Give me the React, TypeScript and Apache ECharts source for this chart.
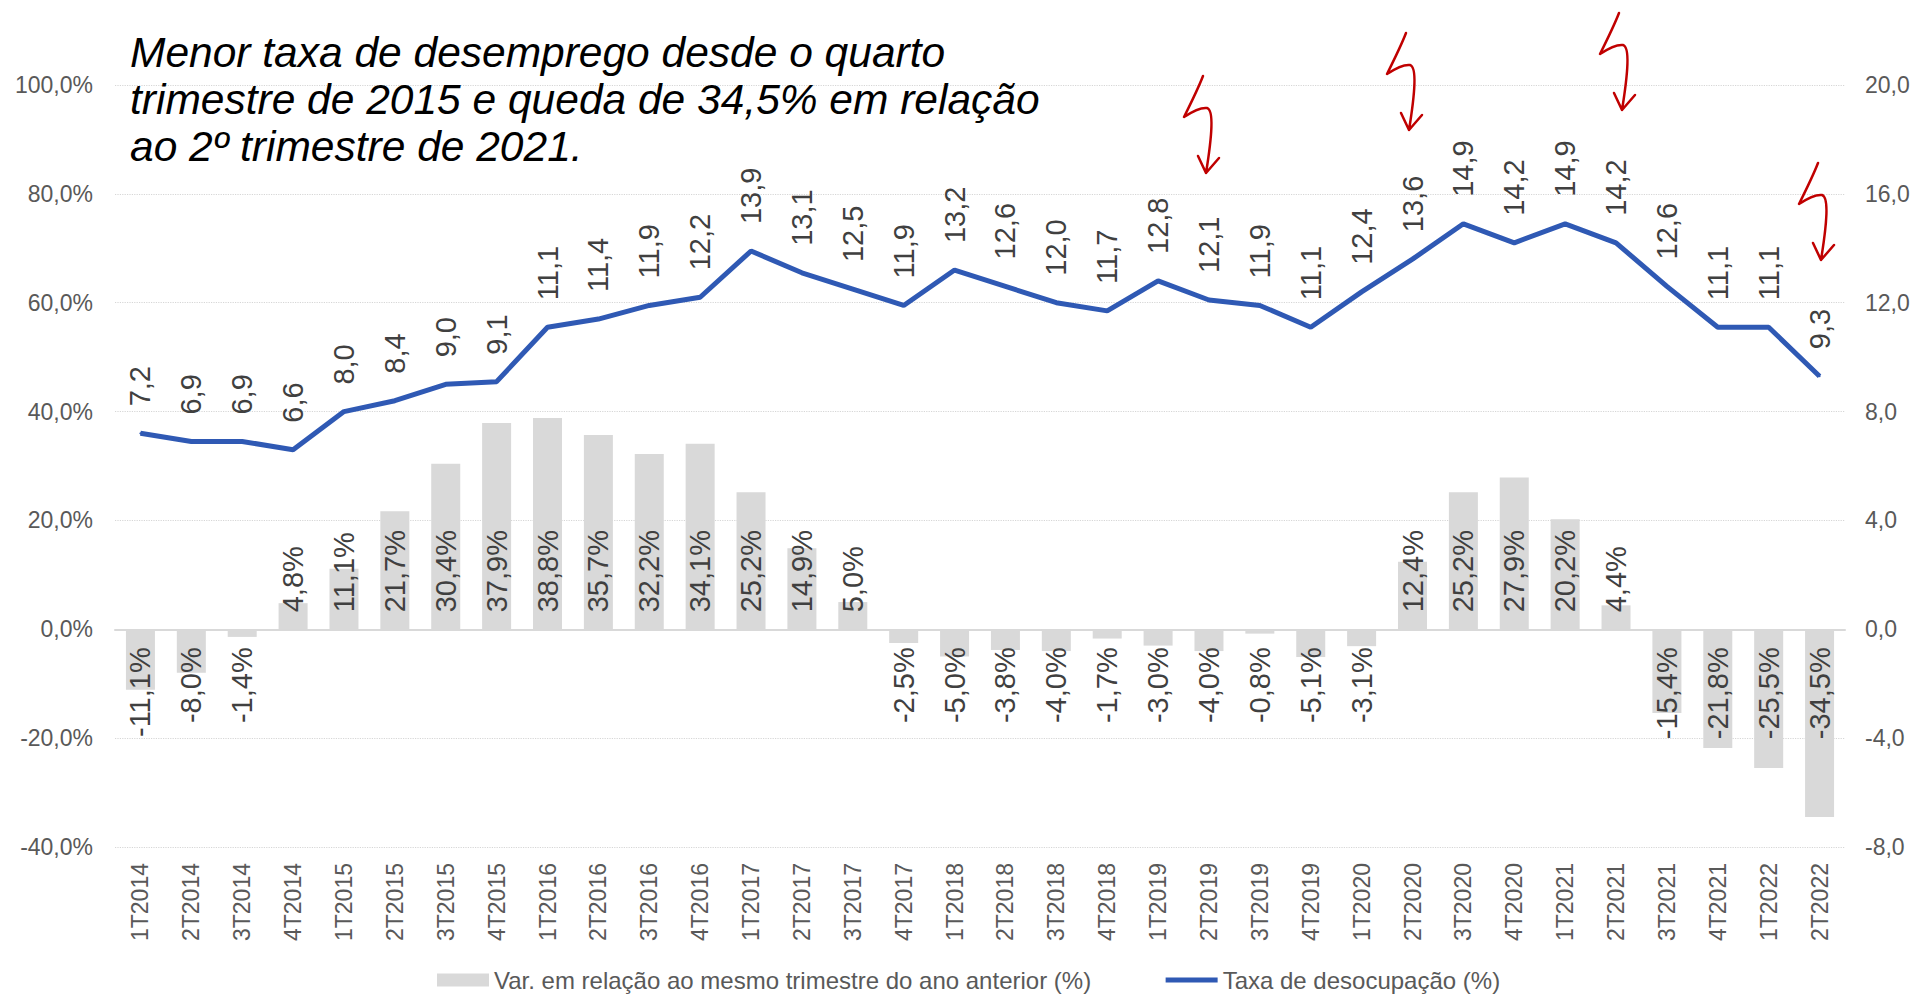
import React, { useEffect, useRef } from 'react';
import * as echarts from 'echarts';

const categories = [
  '1T2014', '2T2014', '3T2014', '4T2014',
  '1T2015', '2T2015', '3T2015', '4T2015',
  '1T2016', '2T2016', '3T2016', '4T2016',
  '1T2017', '2T2017', '3T2017', '4T2017',
  '1T2018', '2T2018', '3T2018', '4T2018',
  '1T2019', '2T2019', '3T2019', '4T2019',
  '1T2020', '2T2020', '3T2020', '4T2020',
  '1T2021', '2T2021', '3T2021', '4T2021',
  '1T2022', '2T2022',
];

const varValues = [
  -11.1, -8.0, -1.4, 4.8,
  11.1, 21.7, 30.4, 37.9,
  38.8, 35.7, 32.2, 34.1,
  25.2, 14.9, 5.0, -2.5,
  -5.0, -3.8, -4.0, -1.7,
  -3.0, -4.0, -0.8, -5.1,
  -3.1, 12.4, 25.2, 27.9,
  20.2, 4.4, -15.4, -21.8,
  -25.5, -34.5,
];

const taxaValues = [
  7.2, 6.9, 6.9, 6.6,
  8.0, 8.4, 9.0, 9.1,
  11.1, 11.4, 11.9, 12.2,
  13.9, 13.1, 12.5, 11.9,
  13.2, 12.6, 12.0, 11.7,
  12.8, 12.1, 11.9, 11.1,
  12.4, 13.6, 14.9, 14.2,
  14.9, 14.2, 12.6, 11.1,
  11.1, 9.3,
];

const leftAxis = { min: -40, max: 100, interval: 20 };
const rightAxis = { min: -8, max: 20, interval: 4 };

const barName = 'Var. em relação ao mesmo trimestre do ano anterior (%)';
const lineName = 'Taxa de desocupação (%)';
const titleLines = [
  'Menor taxa de desemprego desde o quarto',
  'trimestre de 2015 e queda de 34,5% em relação',
  'ao 2º trimestre de 2021.',
];

// arrow annotation anchors (top of each hand-drawn arrow)
const arrowTops = [
  [1203, 76],
  [1406, 33],
  [1619, 13],
  [1818, 163],
];

const ARROW_D =
  'M0,0 C-5,13 -13,29 -19,41 C-13,37 -4,31 4,32 C11,34 9,60 3,97 M-5,80 L3,97 L16,82';
echarts.graphic.registerShape('redArrow', echarts.graphic.extendPath(ARROW_D, {}));

const FONT = '"Liberation Sans", Arial, sans-serif';
const fmt = (v: number) => v.toFixed(1).replace('.', ',');

export default function App() {
  const ref = useRef<HTMLDivElement>(null);

  useEffect(() => {
    if (!ref.current) return;
    const chart = echarts.init(ref.current, undefined, { renderer: 'svg' });

    const posLabel = { position: 'insideBottom', distance: 17, align: 'left', verticalAlign: 'middle' };
    const negLabel = { position: 'insideTop', distance: 18, align: 'right', verticalAlign: 'middle' };

    const option: any = {
      animation: false,
      backgroundColor: '#ffffff',
      textStyle: { fontFamily: FONT },
      grid: {
        left: 115,
        right: 70,
        top: 85,
        bottom: 147,
        containLabel: false,
        outerBoundsMode: 'none',
      },
      legend: {
        left: 432,
        top: 963,
        itemWidth: 52,
        itemHeight: 13,
        itemGap: 72,
        textStyle: { fontSize: 24, color: '#595959', fontFamily: FONT },
        data: [
          { name: barName, icon: 'rect' },
          { name: lineName, itemStyle: { opacity: 0 }, lineStyle: { width: 5 } },
        ],
      },
      xAxis: {
        type: 'category',
        data: categories,
        axisLine: { show: true, onZero: true, lineStyle: { color: '#D9D9D9', width: 2 } },
        axisTick: { show: false },
        axisLabel: {
          interval: 0,
          rotate: 90,
          margin: 16,
          fontSize: 23,
          color: '#595959',
          fontFamily: FONT,
        },
      },
      yAxis: [
        {
          type: 'value',
          min: leftAxis.min,
          max: leftAxis.max,
          interval: leftAxis.interval,
          axisLine: { show: false },
          axisTick: { show: false },
          splitLine: { show: true, lineStyle: { color: '#D6D6D6', type: 'dotted', width: 1.2 } },
          axisLabel: {
            margin: 22,
            fontSize: 23,
            color: '#595959',
            fontFamily: FONT,
            formatter: (v: number) => fmt(v) + '%',
          },
        },
        {
          type: 'value',
          min: rightAxis.min,
          max: rightAxis.max,
          interval: rightAxis.interval,
          axisLine: { show: false },
          axisTick: { show: false },
          splitLine: { show: false },
          axisLabel: {
            margin: 20,
            fontSize: 23,
            color: '#595959',
            fontFamily: FONT,
            formatter: (v: number) => fmt(v),
          },
        },
      ],
      series: [
        {
          name: barName,
          type: 'bar',
          yAxisIndex: 0,
          barWidth: '57%',
          itemStyle: { color: '#D9D9D9' },
          label: {
            show: true,
            rotate: 90,
            fontSize: 29,
            color: '#404040',
            fontFamily: FONT,
            formatter: (p: any) => fmt(p.value) + '%',
          },
          data: varValues.map((v) => ({ value: v, label: v >= 0 ? posLabel : negLabel })),
          z: 2,
        },
        {
          name: lineName,
          type: 'line',
          yAxisIndex: 1,
          data: taxaValues,
          symbol: 'circle',
          symbolSize: 2,
          showSymbol: true,
          itemStyle: { color: '#2F59B4' },
          lineStyle: { color: '#2F59B4', width: 5 },
          label: {
            show: true,
            position: 'top',
            distance: 26,
            rotate: 90,
            align: 'left',
            verticalAlign: 'middle',
            fontSize: 29,
            color: '#404040',
            fontFamily: FONT,
            formatter: (p: any) => fmt(p.value),
          },
          z: 3,
        },
      ],
      graphic: [
        {
          type: 'text',
          left: 130,
          top: 29,
          z: 10,
          style: {
            text: titleLines.join('\n'),
            font: 'italic 42.5px "Liberation Sans", Arial, sans-serif',
            fill: '#000000',
            lineHeight: 47,
          },
        },
        ...arrowTops.map(([x, y]) => ({
          type: 'redArrow',
          x,
          y,
          z: 10,
          style: { stroke: '#C00000', fill: 'none', lineWidth: 2.5, lineCap: 'round', lineJoin: 'round' },
        })),
      ],
    };

    chart.setOption(option);
    return () => chart.dispose();
  }, []);

  return (
    <div
      ref={ref}
      style={{ position: 'fixed', left: 0, top: 0, width: 1915, height: 994, background: '#fff' }}
    />
  );
}
